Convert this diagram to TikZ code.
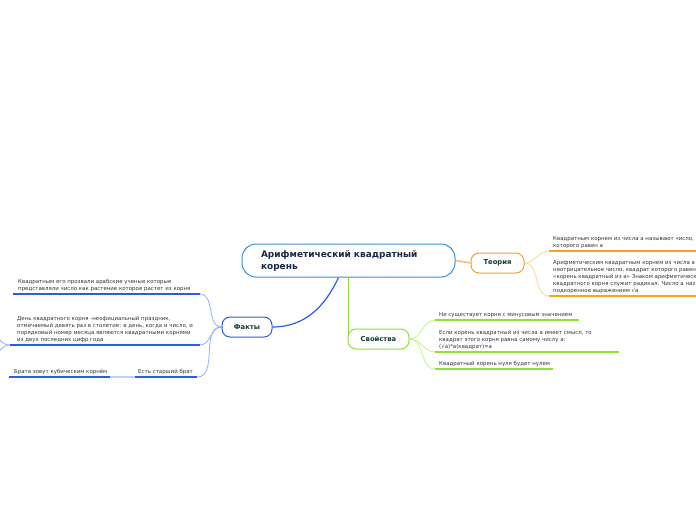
\documentclass[tikz,border=0pt]{standalone}
\usepackage{fontspec}
\setmainfont{DejaVu Sans}
\usetikzlibrary{positioning, backgrounds}
\definecolor{RootBlue}{RGB}{61,143,214}
\definecolor{RootText}{RGB}{24,40,74}
\definecolor{FactBlue}{RGB}{43,92,230}
\definecolor{FactLight}{RGB}{150,176,242}
\definecolor{TheoOrange}{RGB}{247,161,43}
\definecolor{TheoLight}{RGB}{252,214,150}
\definecolor{PropGreen}{RGB}{142,224,60}
\definecolor{PropLight}{RGB}{200,240,140}
\definecolor{LabelDark}{RGB}{18,60,48}
\definecolor{LeafText}{RGB}{51,51,51}

\begin{document}
\begin{tikzpicture}[x=1pt,y=-1pt,
    root/.style={draw=RootBlue,fill=white,line width=1pt,rounded corners=14pt,
                 text width=175pt,align=left,inner xsep=19pt,inner ysep=0pt,
                 minimum height=33pt,text=RootText,
                 font=\fontsize{9}{12}\selectfont\bfseries},
    topic/.style={fill=white,line width=1pt,rounded corners=8pt,minimum height=20pt,
                  inner sep=0pt,text=LabelDark,font=\fontsize{6.8}{8}\selectfont\bfseries},
    leaf/.style={anchor=south west,inner sep=0pt,align=left,text=LeafText,
                 font=\fontsize{5.45}{7}\selectfont},
    tcon/.style={TheoLight,line width=0.8pt},
    pcon/.style={PropLight,line width=0.8pt},
    fcon/.style={FactLight,line width=0.8pt},
    tline/.style={TheoOrange,line width=2pt},
    pline/.style={PropGreen,line width=2pt},
    fline/.style={FactBlue,line width=2pt}
  ]
    \useasboundingbox (0,0) rectangle (696,520);

    % main topic and branches
    \node[root] (root) at (348.5,260.5) {Арифметический квадратный\\корень};
    \node[topic,draw=TheoOrange,minimum width=53pt] (teo) at (497.5,263) {Теория};
    \node[topic,draw=PropGreen,minimum width=61pt] (svo) at (378.5,339) {Свойства};
    \node[topic,draw=FactBlue,minimum width=50pt] (fak) at (247,327) {Факты};

    % Теория
    \node[leaf] (th1) at (553,249) {Квадратным корнем из числа а называют число,\\которого равен а};
    \node[leaf] (th2) at (553,294) {Арифметическим квадратным корнем из числа а\\неотрицательное число, квадрат которого равен\\«корень квадратный из а» Знаком арифметическ\\квадратного корня служит радикал. Число а наз\\подкоренное выражением √a};
    \coordinate (th1s) at (549,251);
    \coordinate (th1e) at (700,251);
    \coordinate (th2s) at (549,296);
    \coordinate (th2e) at (700,296);

    % Свойства
    \node[leaf] (sv1) at (439,318) {Не существует корня с минусовым значением};
    \node[leaf] (sv2) at (439,350) {Если корень квадратный из числа а имеет смысл, то\\квадрат этого корня равна самому числу а:\\(√a)*a(квадрат)=a};
    \node[leaf] (sv3) at (439,367) {Квадратный корень нуля будет нулем};
    \coordinate (sv1s) at (435,320);
    \coordinate (sv1e) at (579,320);
    \coordinate (sv2s) at (435,352);
    \coordinate (sv2e) at (619,352);
    \coordinate (sv3s) at (435,369);
    \coordinate (sv3e) at (553,369);

    % Факты
    \node[leaf] (fk1) at (18,292) {Квадратным его прозвали арабские ученые которые\\представляли число как растение которое растет из корня};
    \node[leaf] (fk2) at (17,343) {День квадратного корня -неофициальный праздник,\\отмечаемый девять раз в столетие: в день, когда и число, и\\порядковый номер месяца являются квадратными корнями\\из двух последних цифр года};
    \node[leaf] (fk3) at (138,375) {Есть старший брат};
    \node[leaf] (fk4) at (14,375) {Брата зовут кубическим корнём};
    \coordinate (fk1s) at (13,294);
    \coordinate (fk1e) at (200,294);
    \coordinate (fk2s) at (10,345);
    \coordinate (fk2e) at (200,345);
    \coordinate (fk3s) at (135,377);
    \coordinate (fk3e) at (197,377);
    \coordinate (fk4s) at (9,377);
    \coordinate (fk4e) at (110,377);
    \coordinate (fk2up) at (-20,322);
    \coordinate (fk2dn) at (-20,372);

    \begin{scope}[on background layer]
      \draw[TheoOrange!70,line width=1.5pt] (root.east) -- (teo.west);
      \draw[PropGreen,line width=1.2pt] ([xshift=1pt]root.south -| svo.west) -- ([xshift=1pt]svo.west);
      \draw[FactBlue,line width=1.2pt] ([xshift=-10pt]root.south) to[out=-115,in=0] (fak.east);

      \draw[tcon] (teo.east) to[out=0,in=180] (th1s);
      \draw[tcon] (teo.east) to[out=0,in=180] (th2s);
      \draw[tline] (th1s) -- (th1e);
      \draw[tline] (th2s) -- (th2e);

      \draw[pcon] (svo.east) to[out=0,in=180] (sv1s);
      \draw[pcon] (svo.east) to[out=0,in=180] (sv2s);
      \draw[pcon] (svo.east) to[out=0,in=180] (sv3s);
      \draw[pline] (sv1s) -- (sv1e);
      \draw[pline] (sv2s) -- (sv2e);
      \draw[pline] (sv3s) -- (sv3e);

      \draw[fcon] (fak.west) to[out=180,in=0] (fk1e);
      \draw[fcon] (fak.west) to[out=180,in=0] (fk2e);
      \draw[fcon] (fak.west) to[out=180,in=0] (fk3e);
      \draw[fline] (fk1s) -- (fk1e);
      \draw[fline] (fk2s) -- (fk2e);
      \draw[fline] (fk3s) -- (fk3e);
      \draw[FactLight!60,line width=2pt] (fk3s) -- (fk4e);
      \draw[fline] (fk4s) -- (fk4e);
      \draw[fcon] (fk2s) to[out=180,in=0] (fk2up);
      \draw[fcon] (fk2s) to[out=180,in=0] (fk2dn);
    \end{scope}
\end{tikzpicture}
\end{document}
